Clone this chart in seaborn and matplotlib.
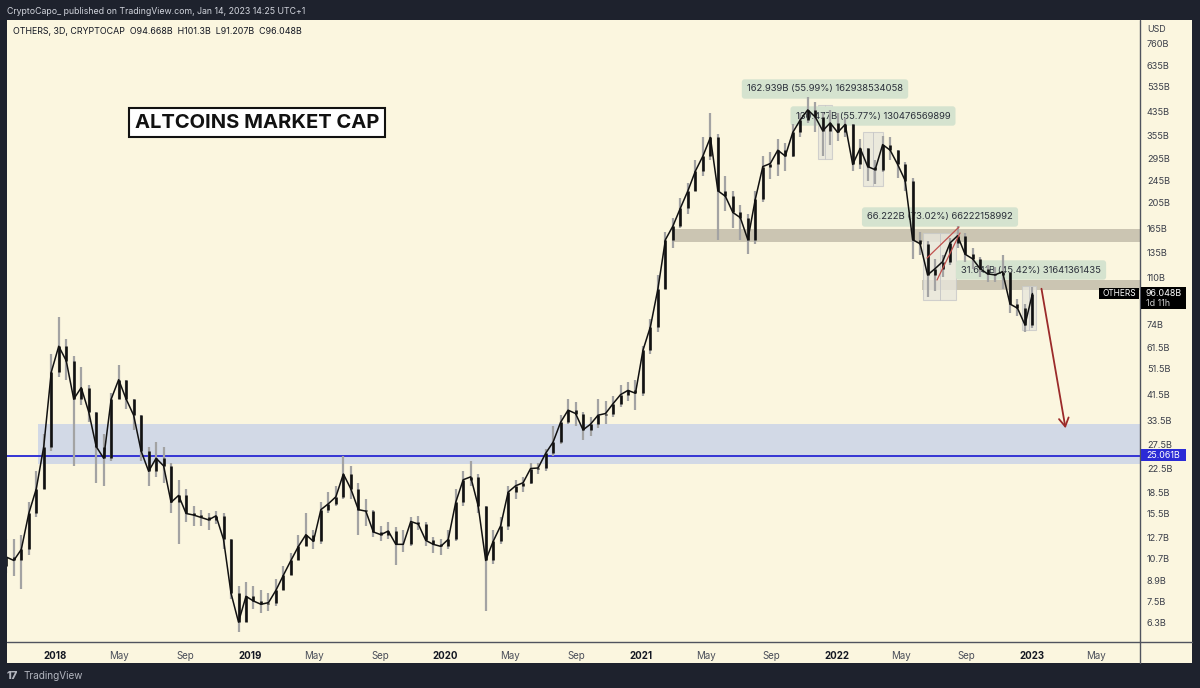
import numpy as np
import pandas as pd
import matplotlib
matplotlib.use('Agg')
import matplotlib.pyplot as plt
import matplotlib.dates as mdates
from matplotlib.patches import Rectangle, FancyArrowPatch
from matplotlib.lines import Line2D
import seaborn as sns

# OTHERS market cap, candles resampled to 2 weeks (billion USD)
candle_start = '2017-10-02'
first_open = 10.0
closes = [10.8, 10.5, 11.5, 15.5, 19, 27, 50, 62, 55, 40,
          44, 36, 27, 24.5, 40, 47, 40, 35, 26, 22,
          24.5, 23, 17, 18, 15.5, 15.3, 15, 14.7, 15.2, 12.5,
          8, 6.3, 7.8, 7.5, 7.3, 7.4, 8.2, 9.3, 10.5, 11.8,
          13, 12.3, 16, 16.8, 17.8, 21.5, 19, 16, 15.8, 13.3,
          13, 13.4, 12, 12, 14.5, 14.2, 12.4, 12, 11.8, 12.5,
          17, 20.5, 21, 16.5, 10.5, 12.3, 14, 18.5, 19.5, 20,
          22.5, 22.6, 25.5, 28, 33, 36.5, 35.5, 31, 32.5, 35,
          35.5, 38.5, 41.5, 43, 42, 60, 73, 100, 150, 168,
          195, 225, 265, 300, 350, 225, 215, 188, 180, 150,
          210, 275, 282, 315, 300, 365, 405, 440, 415, 370,
          395, 365, 390, 280, 320, 275, 268, 330, 315, 280,
          245, 150, 145, 112, 118, 125, 146, 155, 133, 128,
          118, 113, 112, 115, 88, 85, 74, 96]
highs = [12.5, 12.5, 13, 17, 22, 30, 58, 79, 66, 57,
         52, 45, 35, 30, 42, 53, 47, 40, 35, 27,
         28, 27, 23.5, 20.5, 19, 16.5, 16, 15.5, 15.8, 15.5,
         12.5, 8.5, 8.8, 8.5, 8.2, 8, 9, 10, 11.2, 13,
         15.5, 13.5, 17, 18.5, 19.5, 25, 23, 20, 17.5, 16,
         14, 14.5, 13.8, 13.5, 15, 15.2, 14.5, 12.8, 12.5, 13.5,
         19, 22, 24, 21.5, 16.5, 13.5, 15, 19.5, 20.5, 21,
         23.5, 23.5, 26.5, 32, 35, 40, 39, 36, 34.5, 40,
         39.5, 41, 45, 46, 47, 62, 78, 112, 160, 180,
         212, 240, 290, 350, 430, 360, 255, 225, 200, 185,
         225, 300, 310, 345, 335, 390, 430, 490, 470, 430,
         440, 430, 410, 390, 345, 320, 290, 355, 350, 315,
         285, 250, 160, 148, 128, 132, 152, 168, 158, 140,
         130, 122, 120, 132, 115, 92, 88, 101]
lows = [9.5, 9.2, 8.3, 11, 15, 19, 26, 48, 47, 23,
        38, 33, 20, 19.5, 24, 40, 37, 31, 24, 19.5,
        21, 20, 15.5, 12, 14.5, 14, 14, 13.5, 14.2, 11.5,
        7.6, 5.8, 6.5, 7, 6.8, 6.9, 7.2, 8.2, 9.3, 10.5,
        12.3, 11.5, 12, 15.5, 16.5, 17.5, 17.5, 13, 14, 12.8,
        12.3, 12.5, 10.1, 11.3, 11.8, 13.5, 11.8, 11.2, 11, 11.5,
        12.3, 16.5, 19.5, 15.5, 6.9, 10.2, 12, 13.5, 17.5, 18.5,
        19.8, 21.5, 22, 25, 27.5, 32.5, 32, 28.5, 29.5, 31.5,
        32.5, 34.5, 37.5, 39.5, 36.5, 41, 58, 70, 100, 140,
        165, 185, 225, 255, 290, 150, 190, 165, 150, 133,
        145, 205, 248, 255, 265, 298, 350, 395, 365, 300,
        330, 340, 350, 265, 270, 245, 238, 262, 290, 250,
        225, 128, 132, 93, 98, 110, 122, 140, 125, 118,
        110, 106, 106, 100, 82, 80, 70, 72]

# horizontal levels (billion USD)
support_zone = (23.4, 32.5)
support_line = 25.061
resist_zone = (147, 164)
retest_zone = (99, 107)

y_ticks = [760, 635, 535, 435, 355, 295, 245, 205, 165, 135, 110, 74,
           61.5, 51.5, 41.5, 33.5, 27.5, 22.5, 18.5, 15.5, 12.7, 10.7, 8.9, 7.5, 6.3]
x_tick_dates = ['2018-01-01', '2018-05-01', '2018-09-01', '2019-01-01', '2019-05-01',
                '2019-09-01', '2020-01-01', '2020-05-01', '2020-09-01', '2021-01-01',
                '2021-05-01', '2021-09-01', '2022-01-01', '2022-05-01', '2022-09-01',
                '2023-01-01', '2023-05-01']
x_tick_labels = ['2018', 'May', 'Sep', '2019', 'May', 'Sep', '2020', 'May', 'Sep',
                 '2021', 'May', 'Sep', '2022', 'May', 'Sep', '2023', 'May']

measure_labels = ['162.939B (55.99%) 162938534058', '130.477B (55.77%) 130476569899',
                  '66.222B (73.02%) 66222158992', '31.641B (45.42%) 31641361435']

DARK = '#1e222d'
CREAM = '#fbf6df'
GREEN = '#d5e3cf'
W, H = 1200, 688

sns.set_theme(style='white')
plt.rcParams['font.family'] = ['Inter', 'DejaVu Sans']


def fx(x):
    return x / W


def fy(y):
    return 1 - y / H


fig = plt.figure(figsize=(12, 6.88), dpi=100, facecolor=DARK)
fig.patches.append(Rectangle((fx(7), fy(663)), fx(1192) - fx(7), fy(20) - fy(663),
                             transform=fig.transFigure, facecolor=CREAM, edgecolor='none', zorder=-5))
ax = fig.add_axes([fx(7), fy(642), fx(1140) - fx(7), fy(20) - fy(642)])
ax.set_zorder(1)
ax.set_facecolor(CREAM)

df = pd.DataFrame({
    'date': pd.date_range(candle_start, periods=len(closes), freq='14D'),
    'close': closes, 'high': highs, 'low': lows,
})
df['open'] = [first_open] + closes[:-1]
df['high'] = df[['high', 'open', 'close']].max(axis=1)
df['low'] = df[['low', 'open', 'close']].min(axis=1)

# zones and level
ax.axhspan(*support_zone, xmin=(38 - 7) / 1133, xmax=1, color='#d2d9e6', zorder=1, lw=0)
ax.axhline(support_line, color='#3434d4', lw=1.4, zorder=2)
ax.axhspan(*resist_zone, xmin=(672 - 7) / 1133, xmax=1, color='#cbc5b2', zorder=1, lw=0)
ax.axhspan(*retest_zone, xmin=(922 - 7) / 1133, xmax=1, color='#cbc5b2', zorder=1, lw=0)

# measurement boxes (pixel rectangles)
for x0, x1, y0, y1 in [(818, 832, 105, 159), (863, 883, 132, 186), (923, 956, 233, 300), (1022, 1036, 286, 330)]:
    ax.add_patch(Rectangle((fx(x0), fy(y1)), fx(x1) - fx(x0), fy(y0) - fy(y1), transform=fig.transFigure,
                           facecolor='#e8e6dc', edgecolor='#c8c8c8', lw=0.8, alpha=0.8, zorder=2))
    ax.add_line(Line2D([fx((x0 + x1) / 2)] * 2, [fy(y1), fy(y0)], transform=fig.transFigure,
                       color='#c8c8c8', lw=0.7, zorder=2))

# measurement labels
for s, (cx, cy) in zip(measure_labels, [(825, 89), (873, 116), (940, 217), (1031, 270)]):
    ax.text(fx(cx), fy(cy), s, transform=fig.transFigure, ha='center', va='center', fontsize=6.8,
            color='#2a2e39', zorder=2.5,
            bbox=dict(boxstyle='round,pad=0.55,rounding_size=0.3', fc=GREEN, ec='none'))

# candles: grey wicks, black bodies, closes joined like the dense 3D series
ax.vlines(df['date'], df['low'], df['high'], color='#a3a3a3', lw=1.6, zorder=3)
sns.lineplot(data=df, x='date', y='close', ax=ax, color='#111111', lw=1.1, zorder=4)
ax.vlines(df['date'], df['open'], df['close'], color='#111111', lw=1.9, zorder=4)

# wedge lines and projection arrow
for (xa, ya), (xb, yb) in [((927, 258), (959, 227)), ((937, 280), (960, 233))]:
    ax.add_line(Line2D([fx(xa), fx(xb)], [fy(ya), fy(yb)], transform=fig.transFigure,
                       color='#c0504d', lw=0.9, zorder=5))
ax.add_patch(FancyArrowPatch((fx(1041), fy(286)), (fx(1066), fy(431)), transform=fig.transFigure,
                             arrowstyle='->,head_length=6,head_width=3.5', color='#9b2a2a', lw=1.3,
                             zorder=5, clip_on=False))

# axes
ax.set_yscale('log')
ax.set_ylim(5.34, 927)
base = mdates.date2num(pd.Timestamp('2018-01-01'))
ax.set_xlim(base - 89.7, base + 2028)
ax.set_xlabel('')
ax.set_ylabel('')
ax.yaxis.tick_right()
ax.set_yticks(y_ticks)
ax.set_yticklabels([f'{v:g}B' for v in y_ticks])
ax.yaxis.set_minor_locator(matplotlib.ticker.NullLocator())
ax.set_xticks(pd.to_datetime(x_tick_dates))
ax.set_xticklabels(x_tick_labels)
for lab in ax.get_xticklabels():
    if lab.get_text().isdigit():
        lab.set_fontweight('bold')
        lab.set_color('#131722')
    else:
        lab.set_color('#4a4e59')
ax.tick_params(axis='y', length=0, pad=5, labelsize=6.6, labelcolor='#3a3e49')
ax.tick_params(axis='x', length=0, pad=6.5, labelsize=7.0)
for sp in ax.spines.values():
    sp.set_visible(False)
ax.grid(False)

# frame lines
fig.add_artist(Line2D([fx(7), fx(1192)], [fy(642), fy(642)], color='#50535e', lw=1.0, zorder=3))
fig.add_artist(Line2D([fx(1140), fx(1140)], [fy(20), fy(663)], color='#50535e', lw=1.0, zorder=3))

# title box
fig.text(fx(257), fy(122.5), 'ALTCOINS MARKET CAP', ha='center', va='center', fontsize=14.5,
         fontweight='bold', color='#111111', zorder=6,
         bbox=dict(boxstyle='square,pad=0.28', fc='white', ec='#111111', lw=1.5))

# header / footer texts
fig.text(fx(7), fy(11), 'CryptoCapo_ published on TradingView.com, Jan 14, 2023 14:25 UTC+1',
         ha='left', va='center', fontsize=6.3, color='#d1d4dc')
fig.text(fx(13), fy(31.5), 'OTHERS, 3D, CRYPTOCAP  O94.668B  H101.3B  L91.207B  C96.048B',
         ha='left', va='center', fontsize=6.4, color='#131722', zorder=6)
fig.text(fx(1147), fy(29), 'USD', ha='left', va='center', fontsize=6.4, color='#3a3e49', zorder=6)
fig.text(fx(7), fy(676), '17', ha='left', va='center', fontsize=8, fontweight='heavy', color='#b2b5be')
fig.text(fx(24), fy(676), 'TradingView', ha='left', va='center', fontsize=7.2, color='#b2b5be')

# price labels on the scale
fig.patches.append(Rectangle((fx(1099), fy(299)), fx(1139) - fx(1099), fy(288) - fy(299),
                             transform=fig.transFigure, facecolor='black', edgecolor='none', zorder=5))
fig.text(fx(1119), fy(293.5), 'OTHERS', ha='center', va='center', fontsize=6, color='white', zorder=6)
fig.patches.append(Rectangle((fx(1141), fy(309)), fx(1186) - fx(1141), fy(287) - fy(309),
                             transform=fig.transFigure, facecolor='black', edgecolor='none', zorder=5))
fig.text(fx(1146), fy(293), '96.048B', ha='left', va='center', fontsize=6.4, color='white', zorder=6)
fig.text(fx(1146), fy(303), '1d 11h', ha='left', va='center', fontsize=6.4, color='#d0d0d0', zorder=6)
fig.patches.append(Rectangle((fx(1141), fy(461)), fx(1186) - fx(1141), fy(449) - fy(461),
                             transform=fig.transFigure, facecolor='#2b2bd6', edgecolor='none', zorder=5))
fig.text(fx(1146), fy(455), '25.061B', ha='left', va='center', fontsize=6.4, color='white', zorder=6)

fig.savefig('out.png', dpi=100, facecolor=DARK)
